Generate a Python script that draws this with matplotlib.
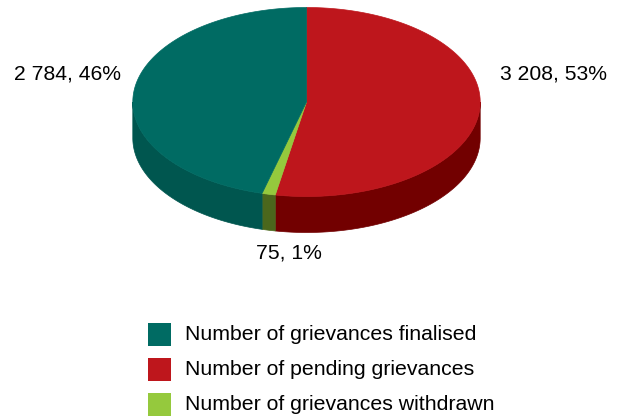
import numpy as np
import matplotlib.pyplot as plt
from matplotlib.patches import Polygon, Rectangle

plt.rcParams['font.family'] = ['Liberation Sans', 'DejaVu Sans']

# grievance counts, drawn clockwise from 12 o'clock
labels = ['Number of pending grievances',
          'Number of grievances withdrawn',
          'Number of grievances finalised']
values = [3208, 75, 2784]
top_colors = ['#BE161C', '#95C93D', '#006B63']
side_colors = ['#720000', '#4B671C', '#00564F']

# legend order
legend_order = [2, 0, 1]

total = float(sum(values))

# ellipse geometry in pixel space (y grows downward)
cx, cy = 306.5, 102.0
rx, ry = 173.7, 94.5
depth = 36.0


def arc(t0, t1, dy=0.0, n=200):
    t = np.radians(np.linspace(t0, t1, n))
    return np.column_stack([cx + rx * np.cos(t), cy + dy + ry * np.sin(t)])


fig = plt.figure(figsize=(6.18, 4.19), dpi=100)
ax = fig.add_axes([0, 0, 1, 1])
ax.set_xlim(0, 618)
ax.set_ylim(419, 0)
ax.axis('off')

start = -90.0
spans = []
for v in values:
    sweep = 360.0 * v / total
    spans.append((start, start + sweep))
    start += sweep

# side walls: only the front half (0..180 deg) is visible
for (a, b), col in zip(spans, side_colors):
    lo, hi = max(a, 0.0), min(b, 180.0)
    if hi <= lo:
        continue
    pts = np.vstack([arc(lo, hi), arc(hi, lo, dy=depth)])
    ax.add_patch(Polygon(pts, closed=True, facecolor=col, edgecolor=col,
                         lw=0.5, zorder=1))

# top faces
for (a, b), col in zip(spans, top_colors):
    pts = np.vstack([[cx, cy], arc(a, b)])
    ax.add_patch(Polygon(pts, closed=True, facecolor=col, edgecolor=col,
                         lw=0.5, zorder=2))

# data labels
label_pos = [(554, 74), (289, 253), (67, 74)]
for v, (x, y) in zip(values, label_pos):
    txt = '{:,}'.format(v).replace(',', ' ') + ', {:.0f}%'.format(100 * v / total)
    ax.text(x, y, txt, ha='center', va='center', fontsize=15.2, color='#000000')

# legend
for row, i in enumerate(legend_order):
    y = 334 + row * 35.3
    ax.add_patch(Rectangle((148, y - 11.5), 23, 23, facecolor=top_colors[i],
                           edgecolor='none', zorder=3))
    ax.text(185, y, labels[i], ha='left', va='center', fontsize=15.3,
            color='#000000')

fig.savefig('out.png', dpi=100)
